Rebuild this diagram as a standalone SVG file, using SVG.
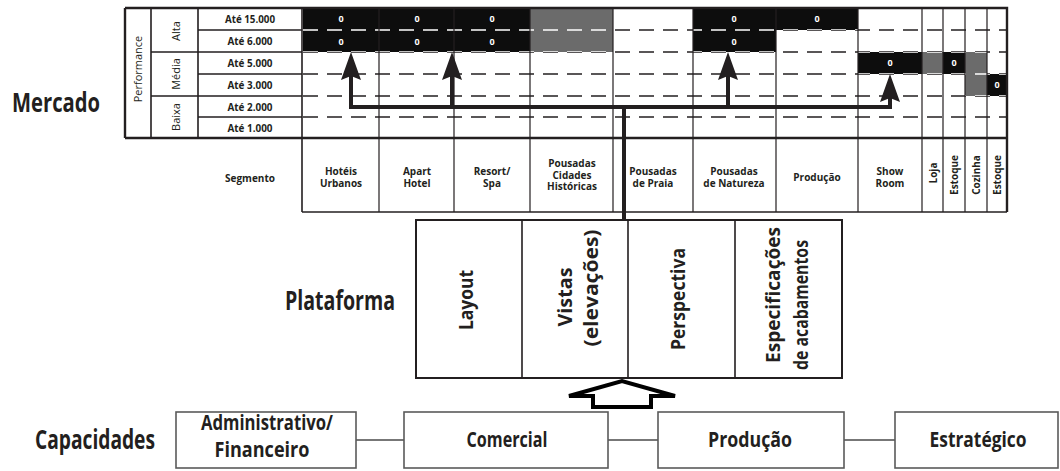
<svg xmlns="http://www.w3.org/2000/svg" width="1060" height="471" viewBox="0 0 1060 471">
<style>
text{font-family:"Open Sans","Noto Sans","Liberation Sans",sans-serif;fill:#231f20}
.t{font-size:10px;font-weight:700;text-anchor:middle}
.r{font-size:11px;font-weight:400;text-anchor:middle}
.s{font-size:10px;font-weight:700;text-anchor:middle}
.z{font-size:9px;font-weight:700;text-anchor:middle;fill:#fff}
.big{font-size:26px;font-weight:700}
.p{font-size:20px;font-weight:700;text-anchor:middle}
.c{font-size:21px;font-weight:700;text-anchor:middle}
.g{stroke:#231f20;stroke-width:1.6;fill:none}
.thin{stroke:#231f20;stroke-width:1.2;fill:none}
.dash{stroke:#231f20;stroke-width:1.4;stroke-dasharray:15 9;fill:none}
.wdash{stroke:#fff;stroke-width:1.4;stroke-dasharray:15 9;fill:none}
.blk{fill:#0d0d0d}
.gry{fill:#6b6b6b}
.conn{stroke:#231f20;stroke-width:4;fill:none}
.box{fill:#fff;stroke:#5a5a5a;stroke-width:1.6}
.link{stroke:#777;stroke-width:2;fill:none}
</style>
<defs>
<marker id="ah" viewBox="0 0 28 20" refX="4" refY="10" markerWidth="28" markerHeight="20" markerUnits="userSpaceOnUse" orient="auto">
<path d="M0,0 L28,10 L0,20 L4,10 Z" fill="#231f20"/>
</marker>
<clipPath id="cells">
<rect x="303" y="8" width="227" height="44"/>
<rect x="530" y="8" width="83" height="44"/>
<rect x="693" y="8" width="83" height="44"/>
<rect x="776" y="8" width="82" height="22"/>
<rect x="858" y="52" width="129" height="22"/>
<rect x="965" y="74" width="42" height="22"/>
</clipPath>
</defs>
<rect width="1060" height="471" fill="#fff"/>

<g id="label-mercado"><text class="big" x="12" y="112" textLength="88" lengthAdjust="spacingAndGlyphs">Mercado</text></g>
<g id="label-plataforma"><text class="big" x="285" y="310" textLength="110" lengthAdjust="spacingAndGlyphs">Plataforma</text></g>
<g id="label-capacidades"><text class="big" x="35" y="449" textLength="120" lengthAdjust="spacingAndGlyphs">Capacidades</text></g>

<g id="mercado-table">
<path class="dash" d="M303,30 H1007 M303,52 H1007 M303,74 H1007 M303,96 H1007 M303,117 H1007"/>
<rect class="blk" x="303" y="8" width="227" height="44"/>
<rect class="gry" x="530" y="8" width="83" height="44"/>
<rect class="blk" x="693" y="8" width="83" height="44"/>
<rect class="blk" x="776" y="8" width="82" height="22"/>
<rect class="blk" x="858" y="52" width="64" height="22"/>
<rect class="gry" x="922" y="52" width="21" height="22"/>
<rect class="blk" x="943" y="52" width="22" height="22"/>
<rect class="gry" x="965" y="52" width="22" height="44"/>
<rect class="blk" x="987" y="74" width="20" height="22"/>
<path class="wdash" clip-path="url(#cells)" d="M303,30 H1007 M303,52 H1007 M303,74 H1007 M303,96 H1007"/>
<path class="thin" d="M379,8 V212 M454,8 V212 M530,8 V212 M613,8 V212 M693,8 V212 M776,8 V212 M858,8 V212 M922,8 V212 M943,8 V212 M965,8 V212 M987,8 V212"/>
<path class="g" d="M151,8 V138 M198,8 V138 M302,8 V212 M198,30 H302 M151,52 H302 M198,74 H302 M151,96 H302 M198,117 H302"/>
<path class="g" d="M302,212 H1007"/>
<path d="M125,8 H1007 V212 M125,8 V138 M125,138 H1007" stroke="#231f20" stroke-width="2.4" fill="none"/>
<text class="r" transform="translate(138,69) rotate(-90)" y="4">Performance</text>
<text class="r" transform="translate(176,31) rotate(-90)" y="4">Alta</text>
<text class="r" transform="translate(176,74) rotate(-90)" y="4">Média</text>
<text class="r" transform="translate(176,117) rotate(-90)" y="4">Baixa</text>
<text class="t" x="250" y="23" textLength="50" lengthAdjust="spacingAndGlyphs">Até 15.000</text>
<text class="t" x="250" y="45" textLength="45" lengthAdjust="spacingAndGlyphs">Até 6.000</text>
<text class="t" x="250" y="67" textLength="45" lengthAdjust="spacingAndGlyphs">Até 5.000</text>
<text class="t" x="250" y="89" textLength="45" lengthAdjust="spacingAndGlyphs">Até 3.000</text>
<text class="t" x="250" y="111" textLength="45" lengthAdjust="spacingAndGlyphs">Até 2.000</text>
<text class="t" x="250" y="132" textLength="45" lengthAdjust="spacingAndGlyphs">Até 1.000</text>
<text class="z" x="341" y="22">0</text>
<text class="z" x="417" y="22">0</text>
<text class="z" x="492" y="22">0</text>
<text class="z" x="734" y="22">0</text>
<text class="z" x="817" y="22">0</text>
<text class="z" x="341" y="45">0</text>
<text class="z" x="417" y="45">0</text>
<text class="z" x="492" y="45">0</text>
<text class="z" x="734" y="45">0</text>
<text class="z" x="890" y="66">0</text>
<text class="z" x="954" y="66">0</text>
<text class="z" x="997" y="88">0</text>
</g>

<g id="segments">
<text class="s" x="250" y="182">Segmento</text>
<text class="s" x="341" y="175">Hotéis<tspan x="341" dy="11.5">Urbanos</tspan></text>
<text class="s" x="417" y="175">Apart<tspan x="417" dy="11.5">Hotel</tspan></text>
<text class="s" x="492" y="175">Resort/<tspan x="492" dy="11.5">Spa</tspan></text>
<text class="s" x="572" y="167">Pousadas<tspan x="572" dy="11.5">Cidades</tspan><tspan x="572" dy="11.5">Históricas</tspan></text>
<text class="s" x="653" y="175">Pousadas<tspan x="653" dy="11.5">de Praia</tspan></text>
<text class="s" x="734" y="175">Pousadas<tspan x="734" dy="11.5">de Natureza</tspan></text>
<text class="s" x="817" y="181">Produção</text>
<text class="s" x="890" y="175">Show<tspan x="890" dy="11.5">Room</tspan></text>
<text class="s" transform="translate(933,173) rotate(-90)" y="4">Loja</text>
<text class="s" transform="translate(954,175) rotate(-90)" y="4">Estoque</text>
<text class="s" transform="translate(976,175) rotate(-90)" y="4">Cozinha</text>
<text class="s" transform="translate(997,175) rotate(-90)" y="4">Estoque</text>
</g>

<g id="plataforma">
<rect x="416" y="220" width="426" height="158" fill="#fff" stroke="#231f20" stroke-width="2"/>
<path d="M522,220 V378 M628,220 V378 M735,220 V378" stroke="#231f20" stroke-width="1.6"/>
<g id="node-layout"><text class="p" transform="translate(473,300) rotate(-90)" textLength="60" lengthAdjust="spacingAndGlyphs">Layout</text></g>
<g id="node-vistas"><text class="p" transform="translate(572,297) rotate(-90)" textLength="59" lengthAdjust="spacingAndGlyphs">Vistas</text><text class="p" transform="translate(598,288) rotate(-90)" textLength="117" lengthAdjust="spacingAndGlyphs">(elevações)</text></g>
<g id="node-perspectiva"><text class="p" transform="translate(685,299) rotate(-90)" textLength="102" lengthAdjust="spacingAndGlyphs">Perspectiva</text></g>
<g id="node-especificacoes"><text class="p" transform="translate(780,295) rotate(-90)" textLength="136" lengthAdjust="spacingAndGlyphs">Especificações</text><text class="p" transform="translate(808,305) rotate(-90)" textLength="130" lengthAdjust="spacingAndGlyphs">de acabamentos</text></g>
</g>

<g id="connectors">
<path class="conn" d="M349,107 H892 M624,105 V220"/>
<path class="conn" d="M351,109 V76" marker-end="url(#ah)"/>
<path class="conn" d="M452,109 V76" marker-end="url(#ah)"/>
<path class="conn" d="M728,109 V76" marker-end="url(#ah)"/>
<path class="conn" d="M890,109 V98" marker-end="url(#ah)"/>
<path d="M593,407 V396 H569 L622,381 L675,396 H651 V407 Z" fill="#fff" stroke="#000" stroke-width="4" stroke-linejoin="miter"/>
<path class="link" d="M356,440 H404 M608,440 H658 M844,440 H895"/>
</g>

<g id="cap-admin"><rect class="box" x="176" y="412" width="180" height="56"/><text class="c" x="267" y="430" textLength="132" lengthAdjust="spacingAndGlyphs">Administrativo/</text><text class="c" x="262" y="457" textLength="95" lengthAdjust="spacingAndGlyphs">Financeiro</text></g>
<g id="cap-comercial"><rect class="box" x="404" y="412" width="204" height="56"/><text class="c" x="507" y="447" textLength="81" lengthAdjust="spacingAndGlyphs">Comercial</text></g>
<g id="cap-producao"><rect class="box" x="658" y="412" width="186" height="56"/><text class="c" x="750" y="447" textLength="84" lengthAdjust="spacingAndGlyphs">Produção</text></g>
<g id="cap-estrategico"><rect class="box" x="895" y="412" width="163" height="56"/><text class="c" x="978" y="447" textLength="97" lengthAdjust="spacingAndGlyphs">Estratégico</text></g>
</svg>
